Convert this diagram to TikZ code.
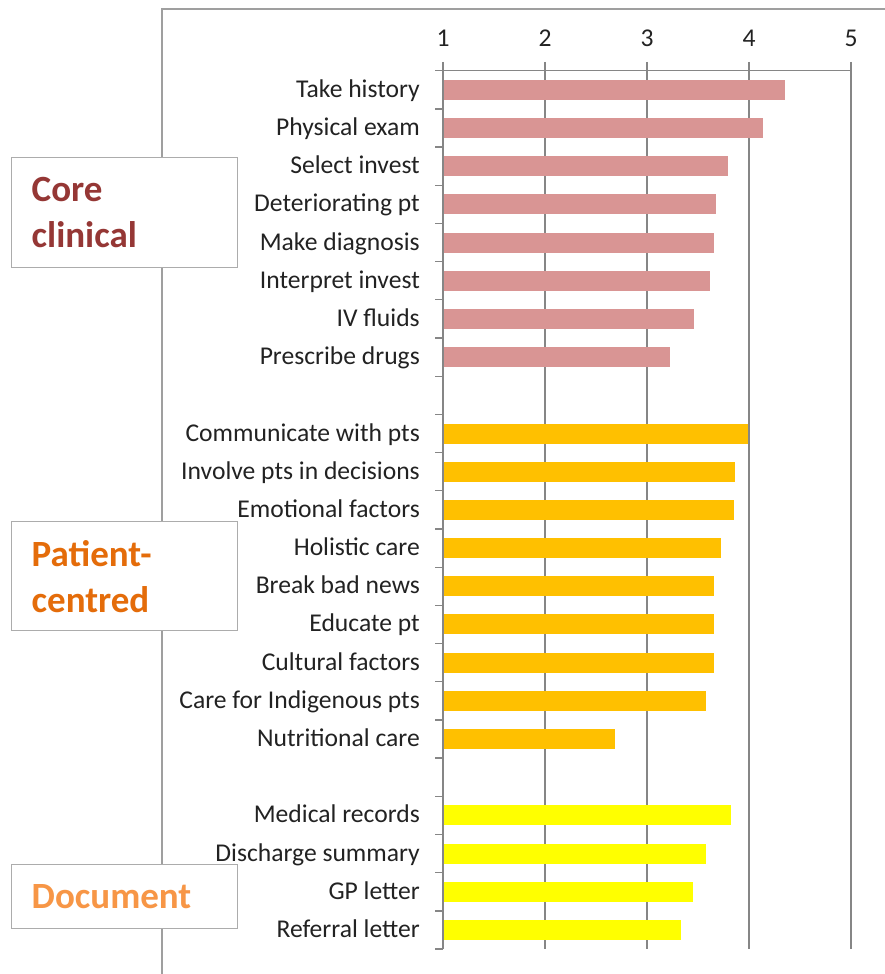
\documentclass[tikz,border=0pt]{standalone}
\usepackage{fontspec}
\setmainfont{Carlito}
\usepackage{xcolor}
\usetikzlibrary{positioning}
\definecolor{coretxt}{HTML}{953735}
\definecolor{pattxt}{HTML}{E46C0A}
\definecolor{doctxt}{HTML}{F79646}
\definecolor{corebar}{HTML}{D99594}
\definecolor{patbar}{HTML}{FFC000}
\definecolor{docbar}{HTML}{FFFF00}
\definecolor{gridgray}{HTML}{868686}
\definecolor{labtxt}{HTML}{222222}
\tikzset{
  catlabel/.style={anchor=base east, inner sep=0pt, text=labtxt, font=\fontsize{25.6}{29}\selectfont},
  numlabel/.style={inner sep=0pt, text=labtxt, font=\fontsize{25.6}{29}\selectfont},
  groupbox/.style={draw=gray!65, line width=1.4pt, fill=white, anchor=north west,
    minimum width=226pt, text width=186pt, inner xsep=20pt, align=left,
    font=\fontsize{37}{46}\selectfont\bfseries},
  gridline/.style={gridgray, line width=1.3pt}
}
% bar row: centre of row n and end of a bar of value v
\newcommand\rowy[1]{89.8+38.19*#1}
\newcommand\barx[1]{443+(#1-1)*102}

\begin{document}
\begin{tikzpicture}[x=1pt, y=-1pt]
  \useasboundingbox (0,0) rectangle (885,974);
  % outer frame
  \draw[gray!75, line width=1.3pt] (885,9) -- (162,9) -- (162,974);
  % grid and scale
  \foreach \v in {2,3,4,5}{
    \draw[gridline] ({\barx{\v}},62) -- ({\barx{\v}},949);
  }
  \foreach \v in {1,...,5}{
    \node[numlabel] (num\v) at ({\barx{\v}},38) {\v};
  }
  % bars
  \foreach \lab/\val [count=\n from 0] in {Take history/4.35, Physical exam/4.14,
      Select invest/3.79, Deteriorating pt/3.68, Make diagnosis/3.66,
      Interpret invest/3.62, IV fluids/3.46, Prescribe drugs/3.23}{
    \fill[corebar] (443,{\rowy{\n}-10}) rectangle ({\barx{\val}},{\rowy{\n}+10});
    \node[catlabel] (core\n) at (420,{\rowy{\n}+7.5}) {\lab};
  }
  \foreach \lab/\val [count=\n from 9] in {Communicate with pts/3.99,
      Involve pts in decisions/3.86, Emotional factors/3.85, Holistic care/3.73,
      Break bad news/3.66, Educate pt/3.66, Cultural factors/3.66,
      Care for Indigenous pts/3.58, Nutritional care/2.69}{
    \fill[patbar] (443,{\rowy{\n}-10}) rectangle ({\barx{\val}},{\rowy{\n}+10});
    \node[catlabel] (pat\n) at (420,{\rowy{\n}+7.5}) {\lab};
  }
  \foreach \lab/\val [count=\n from 19] in {Medical records/3.82,
      Discharge summary/3.58, GP letter/3.45, Referral letter/3.33}{
    \fill[docbar] (443,{\rowy{\n}-10}) rectangle ({\barx{\val}},{\rowy{\n}+10});
    \node[catlabel] (doc\n) at (420,{\rowy{\n}+7.5}) {\lab};
  }
  % axes
  \draw[gridline] (435,70.7) -- (851,70.7);
  \draw[gridline] (443,62) -- (443,949);
  \foreach \k in {1,...,23}{
    \draw[gridline] (435,{70.7+38.19*\k}) -- (443,{70.7+38.19*\k});
  }
  % group boxes
  \node[groupbox, minimum height=110pt, text=coretxt] (core) at (11,157) {Core\\clinical};
  \node[groupbox, minimum height=109pt, text=pattxt] (patient) at (11,521) {Patient-\\centred};
  \node[groupbox, minimum height=64pt, text=doctxt] (document) at (11,864) {Document};
\end{tikzpicture}
\end{document}
